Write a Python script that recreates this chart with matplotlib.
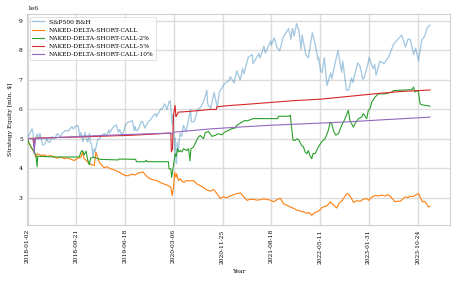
import numpy as np
import matplotlib
matplotlib.use("Agg")
import matplotlib.pyplot as plt

plt.rcParams['font.family'] = ['DejaVu Serif']

# ---------------- data ----------------
start_date = "2018-01-02"
nyse_holidays = [
    "2018-01-01", "2018-01-15", "2018-02-19", "2018-03-30", "2018-05-28", "2018-07-04",
    "2018-09-03", "2018-11-22", "2018-12-05", "2018-12-25",
    "2019-01-01", "2019-01-21", "2019-02-18", "2019-04-19", "2019-05-27", "2019-07-04",
    "2019-09-02", "2019-11-28", "2019-12-25",
    "2020-01-01", "2020-01-20", "2020-02-17", "2020-04-10", "2020-05-25", "2020-07-03",
    "2020-09-07", "2020-11-26", "2020-12-25",
    "2021-01-01", "2021-01-18", "2021-02-15", "2021-04-02", "2021-05-31", "2021-07-05",
    "2021-09-06", "2021-11-25", "2021-12-24",
    "2022-01-17", "2022-02-21", "2022-04-15", "2022-05-30", "2022-06-20", "2022-07-04",
    "2022-09-05", "2022-11-24", "2022-12-26",
    "2023-01-02", "2023-01-16", "2023-02-20", "2023-04-07", "2023-05-29", "2023-06-19",
    "2023-07-04", "2023-09-04", "2023-11-23", "2023-12-25",
]

tick_labels = ["2018-01-02", "2018-09-21", "2019-06-18", "2020-03-06", "2020-11-25",
               "2021-08-18", "2022-05-11", "2023-01-31", "2023-10-24"]

# S&P500 buy & hold equity (mln $): (date, equity)
spx_points = [
    ("2018-01-02", 5.00), ("2018-01-12", 5.17), ("2018-01-26", 5.33), ("2018-02-02", 5.12),
    ("2018-02-08", 4.79), ("2018-02-14", 5.01), ("2018-02-26", 5.16), ("2018-03-02", 4.99),
    ("2018-03-09", 5.17), ("2018-03-13", 5.13), ("2018-03-23", 4.80), ("2018-04-02", 4.79),
    ("2018-04-06", 4.83), ("2018-04-18", 5.02), ("2018-04-24", 4.89), ("2018-05-03", 4.88),
    ("2018-05-14", 5.07), ("2018-05-29", 4.99), ("2018-06-12", 5.17), ("2018-06-20", 5.13),
    ("2018-06-28", 5.04), ("2018-07-09", 5.17), ("2018-07-25", 5.28), ("2018-08-10", 5.26),
    ("2018-08-29", 5.41), ("2018-09-07", 5.33), ("2018-09-20", 5.44), ("2018-10-03", 5.43),
    ("2018-10-11", 5.06), ("2018-10-17", 5.21), ("2018-10-29", 4.90), ("2018-11-07", 5.22),
    ("2018-11-20", 4.90), ("2018-11-23", 4.89), ("2018-12-03", 5.18), ("2018-12-07", 4.89),
    ("2018-12-14", 4.82), ("2018-12-24", 4.36), ("2018-12-26", 4.58), ("2018-12-31", 4.65),
    ("2019-01-03", 4.54), ("2019-01-18", 4.96), ("2019-01-31", 5.02), ("2019-02-15", 5.15),
    ("2019-02-28", 5.17), ("2019-03-08", 5.09), ("2019-03-21", 5.30), ("2019-03-25", 5.19),
    ("2019-04-12", 5.39), ("2019-04-30", 5.47), ("2019-05-13", 5.22), ("2019-05-17", 5.31),
    ("2019-06-03", 5.09), ("2019-06-20", 5.48), ("2019-07-03", 5.56), ("2019-07-26", 5.61),
    ("2019-08-05", 5.28), ("2019-08-09", 5.42), ("2019-08-14", 5.27), ("2019-08-23", 5.28),
    ("2019-09-12", 5.58), ("2019-09-19", 5.58), ("2019-10-02", 5.36), ("2019-10-17", 5.56),
    ("2019-10-31", 5.64), ("2019-11-15", 5.79), ("2019-11-27", 5.85), ("2019-12-03", 5.74),
    ("2019-12-13", 5.88), ("2019-12-27", 6.01),
    ("2020-01-03", 6.00), ("2020-01-17", 6.18), ("2020-01-31", 5.99), ("2020-02-12", 6.27),
    ("2020-02-19", 6.28), ("2020-02-25", 5.80), ("2020-02-28", 5.48), ("2020-03-04", 5.81),
    ("2020-03-09", 5.10), ("2020-03-12", 4.60), ("2020-03-13", 5.03), ("2020-03-16", 4.43),
    ("2020-03-18", 4.45), ("2020-03-23", 4.15), ("2020-03-26", 4.88), ("2020-04-01", 4.58),
    ("2020-04-09", 5.18), ("2020-04-21", 5.08), ("2020-04-29", 5.45), ("2020-05-13", 5.23),
    ("2020-05-27", 5.63), ("2020-06-08", 6.00), ("2020-06-11", 5.57), ("2020-06-26", 5.58),
    ("2020-07-15", 5.99), ("2020-07-31", 6.07), ("2020-08-18", 6.29), ("2020-09-02", 6.64),
    ("2020-09-08", 6.18), ("2020-09-23", 6.01), ("2020-10-12", 6.56), ("2020-10-28", 6.07),
    ("2020-11-09", 6.59), ("2020-11-24", 6.74), ("2020-12-08", 6.87), ("2020-12-31", 6.97),
    ("2021-01-08", 7.10), ("2021-01-29", 6.89), ("2021-02-12", 7.30), ("2021-03-04", 6.99),
    ("2021-03-17", 7.37), ("2021-03-24", 7.20), ("2021-04-16", 7.76), ("2021-05-07", 7.85),
    ("2021-05-12", 7.54), ("2021-06-14", 7.89), ("2021-06-18", 7.73), ("2021-07-12", 8.14),
    ("2021-07-19", 7.90), ("2021-08-16", 8.31), ("2021-08-19", 8.17), ("2021-09-02", 8.42),
    ("2021-09-20", 8.09), ("2021-10-04", 7.98), ("2021-10-21", 8.44), ("2021-11-18", 8.73),
    ("2021-11-30", 8.47), ("2021-12-01", 8.37), ("2021-12-10", 8.74), ("2021-12-20", 8.48),
    ("2022-01-03", 8.90), ("2022-01-14", 8.65), ("2022-01-27", 8.03), ("2022-02-02", 8.51),
    ("2022-02-23", 7.84), ("2022-03-08", 7.74), ("2022-03-29", 8.59), ("2022-04-14", 8.15),
    ("2022-04-29", 7.67), ("2022-05-03", 7.75), ("2022-05-12", 7.29), ("2022-05-20", 7.24),
    ("2022-06-02", 7.75), ("2022-06-16", 6.80), ("2022-07-08", 7.23), ("2022-07-14", 7.03),
    ("2022-08-16", 7.99), ("2022-09-06", 7.25), ("2022-09-12", 7.63), ("2022-09-30", 6.65),
    ("2022-10-12", 6.64), ("2022-10-27", 7.06), ("2022-11-03", 6.90), ("2022-11-30", 7.57),
    ("2022-12-13", 7.46), ("2022-12-28", 7.02),
    ("2023-01-05", 7.06), ("2023-01-27", 7.55), ("2023-02-02", 7.75), ("2023-02-24", 7.37),
    ("2023-03-06", 7.51), ("2023-03-13", 7.15), ("2023-03-31", 7.62), ("2023-04-25", 7.55),
    ("2023-05-19", 7.78), ("2023-06-15", 8.21), ("2023-07-31", 8.51), ("2023-08-18", 8.11),
    ("2023-09-01", 8.38), ("2023-09-14", 8.36), ("2023-10-03", 7.85), ("2023-10-12", 8.07),
    ("2023-10-27", 7.64), ("2023-11-14", 8.34), ("2023-11-30", 8.47), ("2023-12-14", 8.76),
    ("2023-12-29", 8.85),
]

# strategies: (trading day since 2018-01-02, equity mln $)
call_points = [
    (0, 5.00), (4, 4.88), (13, 4.71), (25, 4.54), (31, 4.37), (37, 4.49), (50, 4.43), (63, 4.45),
    (74, 4.40), (88, 4.43), (100, 4.38), (112, 4.34), (125, 4.38), (137, 4.32), (150, 4.35),
    (163, 4.30), (175, 4.26), (187, 4.33), (200, 4.37), (206, 4.54), (212, 4.32), (222, 4.25),
    (231, 4.15), (240, 4.12), (250, 4.09), (256, 4.54), (263, 4.35), (269, 4.20), (278, 4.10),
    (287, 4.02), (298, 4.05), (310, 3.98), (321, 3.95), (336, 3.90), (347, 3.85), (355, 3.80),
    (365, 3.76), (377, 3.74), (391, 3.80), (403, 3.77), (416, 3.84), (433, 3.87), (447, 3.72),
    (460, 3.64), (472, 3.60), (485, 3.58), (497, 3.52), (509, 3.47), (519, 3.44), (528, 3.41),
    (537, 3.35), (542, 3.07), (547, 3.35), (551, 3.86), (556, 3.69), (559, 3.81), (565, 3.58),
    (572, 3.64), (584, 3.52), (597, 3.58), (609, 3.57), (622, 3.58), (634, 3.47), (647, 3.41),
    (659, 3.35), (672, 3.26), (684, 3.22), (697, 3.28), (709, 3.15), (722, 2.98), (734, 3.03),
    (747, 3.00), (759, 3.06), (772, 3.10), (784, 3.14), (797, 3.16), (809, 3.05), (822, 2.91),
    (834, 2.95), (847, 2.94), (859, 2.92), (872, 2.93), (884, 2.96), (897, 2.94), (909, 2.92),
    (922, 2.86), (934, 2.93), (947, 2.98), (959, 2.80), (972, 2.74), (984, 2.69), (997, 2.64),
    (1009, 2.58), (1022, 2.55), (1034, 2.52), (1047, 2.47), (1055, 2.50), (1065, 2.40),
    (1074, 2.48), (1084, 2.52), (1093, 2.56), (1102, 2.66), (1111, 2.70), (1122, 2.72),
    (1134, 2.86), (1147, 2.75), (1159, 2.65), (1168, 2.82), (1177, 2.88), (1191, 3.07),
    (1197, 3.14), (1203, 3.12), (1209, 3.05), (1222, 2.84), (1234, 2.90), (1247, 2.88),
    (1258, 2.95), (1272, 2.97), (1278, 2.91), (1291, 3.03), (1303, 3.07), (1315, 3.06),
    (1327, 3.09), (1340, 3.06), (1351, 3.10), (1359, 3.05), (1368, 2.95), (1377, 2.86),
    (1386, 2.88), (1396, 2.88), (1407, 2.96), (1415, 3.03), (1426, 3.00), (1433, 3.05),
    (1446, 3.04), (1452, 3.08), (1465, 3.14), (1471, 3.02), (1480, 2.86), (1486, 2.88),
    (1493, 2.82), (1502, 2.69), (1508, 2.71),
]

call2_points = [
    (0, 5.00), (4, 4.88), (13, 4.72), (25, 4.55), (31, 4.45), (36, 4.05), (38, 4.40), (50, 4.40),
    (100, 4.38), (150, 4.38), (194, 4.38), (200, 4.55), (206, 4.60), (212, 4.45), (219, 4.58),
    (225, 4.30), (231, 4.12), (237, 4.35), (250, 4.37), (261, 4.33), (272, 4.30), (340, 4.28),
    (342, 4.31), (405, 4.30), (408, 4.22), (440, 4.22), (445, 4.27), (447, 4.22), (528, 4.22),
    (530, 3.98), (537, 3.98), (540, 3.69), (547, 4.10), (553, 4.49), (557, 4.40), (562, 4.66),
    (567, 4.55), (572, 4.60), (578, 4.55), (584, 4.66), (597, 4.60), (603, 4.66), (609, 4.25),
    (612, 4.65), (622, 4.72), (634, 4.95), (640, 5.05), (647, 5.11), (659, 5.00), (666, 5.20),
    (678, 5.25), (691, 5.08), (703, 5.11), (715, 5.17), (728, 5.13), (740, 5.23), (753, 5.28),
    (765, 5.34), (778, 5.36), (784, 5.45), (803, 5.56), (815, 5.62), (822, 5.60), (840, 5.66),
    (845, 5.68), (938, 5.68), (940, 5.76), (982, 5.76), (985, 5.80), (989, 5.40), (995, 4.95),
    (1002, 4.94), (1009, 5.00), (1017, 4.95), (1027, 4.77), (1034, 4.72), (1040, 4.55),
    (1047, 4.49), (1052, 4.60), (1059, 4.42), (1065, 4.32), (1070, 4.50), (1077, 4.49),
    (1090, 4.72), (1102, 4.89), (1115, 5.00), (1127, 5.28), (1134, 5.56), (1140, 5.50),
    (1147, 5.25), (1155, 5.12), (1165, 5.17), (1177, 5.45), (1190, 5.68), (1202, 5.96),
    (1208, 5.62), (1221, 5.39), (1227, 5.51), (1240, 5.68), (1252, 5.73), (1258, 5.85),
    (1271, 5.68), (1277, 5.96), (1283, 6.01), (1290, 6.24), (1302, 6.41), (1315, 6.52),
    (1340, 6.52), (1365, 6.58), (1371, 6.63), (1440, 6.66), (1446, 6.75), (1452, 6.58),
    (1459, 6.63), (1465, 6.58), (1471, 6.18), (1477, 6.15), (1490, 6.13), (1508, 6.10),
]

call5_points = [
    (0, 5.00), (20, 5.02), (24, 4.75), (28, 5.02), (200, 5.06), (400, 5.12), (537, 5.19),
    (539, 4.55), (543, 4.66), (547, 5.80), (553, 6.13), (556, 5.75), (559, 5.79), (565, 5.90),
    (600, 5.92), (650, 5.96), (684, 5.99), (707, 5.99), (710, 6.08), (750, 6.12), (800, 6.15),
    (900, 6.22), (1000, 6.29), (1100, 6.34), (1200, 6.43), (1300, 6.52), (1400, 6.60),
    (1508, 6.65),
]

call10_points = [
    (0, 5.00), (22, 5.00), (25, 4.50), (29, 5.00), (200, 5.08), (400, 5.15), (537, 5.19),
    (540, 5.15), (547, 5.22), (684, 5.33), (750, 5.37), (900, 5.45), (1100, 5.53), (1200, 5.57),
    (1350, 5.65), (1508, 5.73),
]

series_labels = ["S&P500 B&H", "NAKED-DELTA-SHORT-CALL", "NAKED-DELTA-SHORT-CALL-2%",
                 "NAKED-DELTA-SHORT-CALL-5%", "NAKED-DELTA-SHORT-CALL-10%"]
series_colors = ["#1f77b4", "#ff7f0e", "#2ca02c", "#d62728", "#9467bd"]

# ---------------- plot ----------------
def tday(dates):
    return np.busday_count(start_date, np.array(dates, dtype="datetime64[D]"),
                           holidays=nyse_holidays)

fig = plt.figure(figsize=(4.57, 2.83), dpi=100)
ax = fig.add_axes([27 / 457, 1 - 225 / 283, 423 / 457, 211 / 283])

M = 1e6
lw = 0.8
spx_d, spx_v = zip(*spx_points)
ax.plot(tday(list(spx_d)), np.array(spx_v) * M, color=series_colors[0], alpha=0.4, lw=0.95,
        label=series_labels[0])
for pts, col, lab in zip([call_points, call2_points, call5_points, call10_points],
                         series_colors[1:], series_labels[1:]):
    d, v = zip(*pts)
    ax.plot(d, np.array(v) * M, color=col, lw=lw, label=lab)

fs = 4.3
ax.set_xticks(tday(tick_labels))
ax.set_xticklabels(tick_labels, rotation=90, fontsize=fs)
ax.set_xlim(-2, 1583)
ax.tick_params(axis="both", length=0, labelsize=fs, pad=3)
ax.yaxis.get_offset_text().set_fontsize(fs)
ax.set_xlabel("Year", fontsize=fs)
ax.set_ylabel("Strategy Equity [mln. $]", fontsize=fs, labelpad=4)

ax.grid(True, color="#dcdcdc", lw=1.0)
ax.set_axisbelow(True)
for s in ax.spines.values():
    s.set_color("#d0d0d0")
    s.set_linewidth(0.8)

leg = ax.legend(loc="upper left", fontsize=fs, frameon=True, fancybox=True,
                borderpad=0.4, labelspacing=0.5, handlelength=2.0)
leg.get_frame().set_edgecolor("#cccccc")
leg.get_frame().set_linewidth(0.5)

fig.savefig("out.png", dpi=100)
